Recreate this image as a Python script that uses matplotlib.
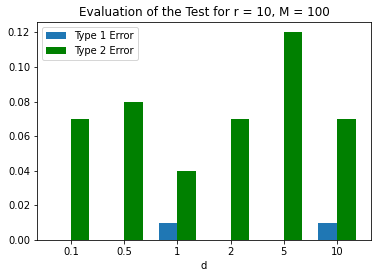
import numpy as np
import matplotlib
matplotlib.use("Agg")
import matplotlib.pyplot as plt

d_labels = ["0.1", "0.5", "1", "2", "5", "10"]
type1 = [0.0, 0.0, 0.01, 0.0, 0.0, 0.01]
type2 = [0.07, 0.08, 0.04, 0.07, 0.12, 0.07]

x = np.arange(len(d_labels))
w = 0.35

fig = plt.figure(figsize=(378 / 72, 278 / 72), dpi=72)
ax = fig.add_axes([0.098, 0.137, 0.883, 0.784])
ax.bar(x - w / 2, type1, w, label="Type 1 Error", color="#1f77b4")
ax.bar(x + w / 2, type2, w, label="Type 2 Error", color="green")
ax.set_xticks(x)
ax.set_xticklabels(d_labels)
ax.set_xlabel("d")
ax.set_title("Evaluation of the Test for r = 10, M = 100")
ax.legend(loc="upper left")

fig.savefig("out.png", dpi=72)
